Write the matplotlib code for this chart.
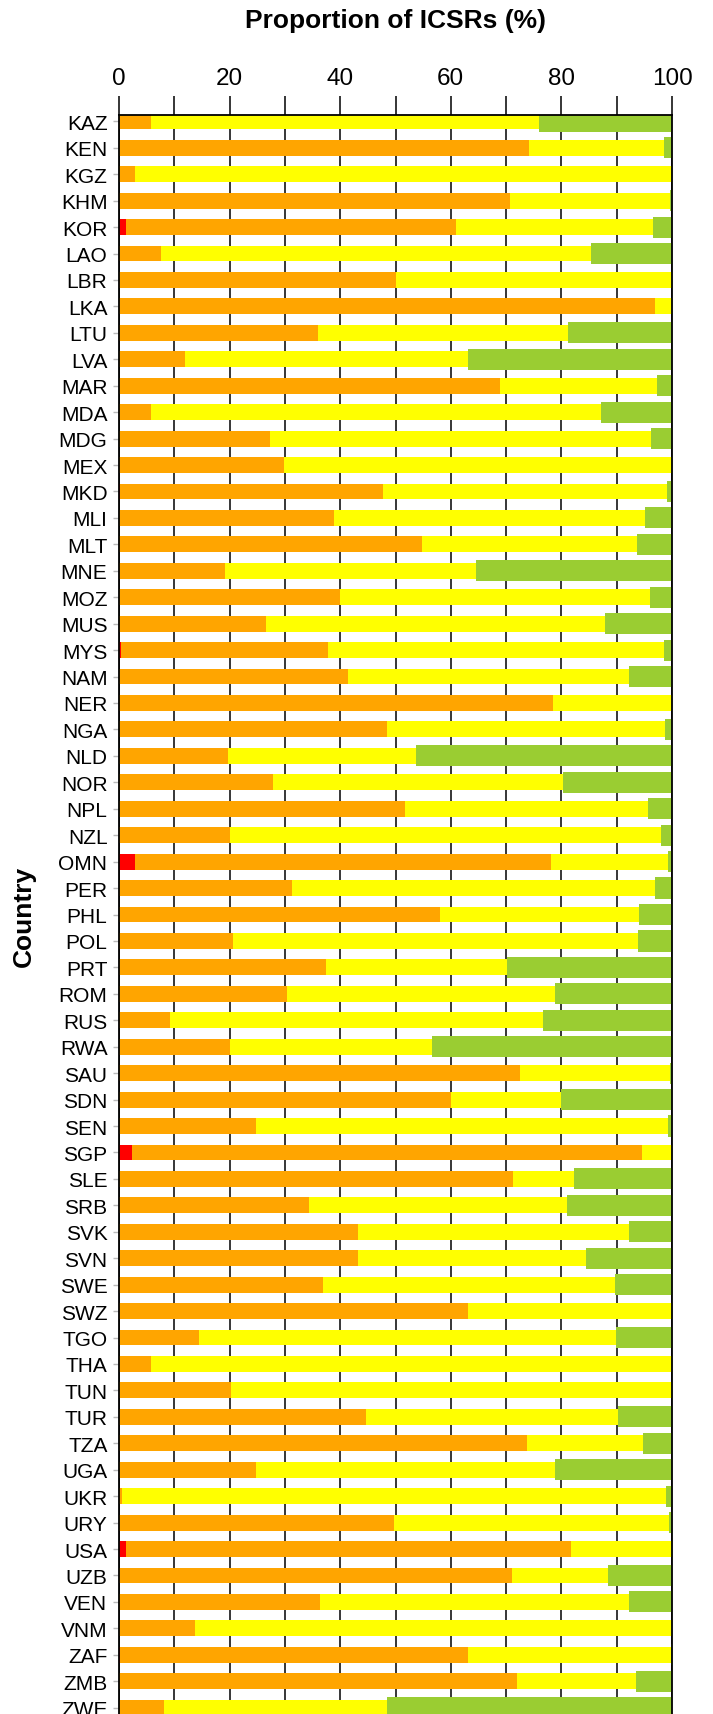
import matplotlib
matplotlib.use("Agg")
from matplotlib import pyplot as plt
import numpy as np

plt.rcParams['font.family'] = ['Liberation Sans', 'DejaVu Sans']

# Countries (top to bottom)
countries = ['KAZ', 'KEN', 'KGZ', 'KHM', 'KOR', 'LAO', 'LBR', 'LKA', 'LTU', 'LVA',
             'MAR', 'MDA', 'MDG', 'MEX', 'MKD', 'MLI', 'MLT', 'MNE', 'MOZ', 'MUS',
             'MYS', 'NAM', 'NER', 'NGA', 'NLD', 'NOR', 'NPL', 'NZL', 'OMN', 'PER',
             'PHL', 'POL', 'PRT', 'ROM', 'RUS', 'RWA', 'SAU', 'SDN', 'SEN', 'SGP',
             'SLE', 'SRB', 'SVK', 'SVN', 'SWE', 'SWZ', 'TGO', 'THA', 'TUN', 'TUR',
             'TZA', 'UGA', 'UKR', 'URY', 'USA', 'UZB', 'VEN', 'VNM', 'ZAF', 'ZMB',
             'ZWE']

# segment widths (%)
red = [0, 0, 0, 0, 1.3, 0, 0, 0, 0, 0,
       0, 0, 0, 0, 0.1, 0, 0, 0, 0, 0,
       0.3, 0, 0, 0, 0, 0, 0, 0, 2.9, 0,
       0, 0, 0, 0, 0, 0, 0, 0, 0, 2.4,
       0, 0, 0, 0, 0, 0, 0, 0, 0, 0,
       0, 0, 0, 0, 1.3, 0, 0, 0, 0.2, 0,
       0]
orange = [5.8, 74.1, 2.9, 70.7, 59.6, 7.6, 50.1, 97.0, 35.9, 12.0,
          68.9, 5.8, 27.3, 29.8, 47.7, 38.9, 54.8, 19.1, 40.0, 26.5,
          37.5, 41.4, 78.5, 48.4, 19.7, 27.8, 51.7, 20.1, 75.2, 31.3,
          58.0, 20.7, 37.4, 30.3, 9.3, 20.0, 72.5, 60.0, 24.7, 92.1,
          71.2, 34.4, 43.2, 43.3, 36.8, 63.1, 14.5, 5.7, 20.2, 44.7,
          73.8, 24.7, 0.6, 49.8, 80.4, 71.1, 36.3, 13.8, 63.0, 72.0,
          8.1]
yellow = [70.1, 24.4, 97.1, 29.0, 35.6, 77.8, 49.9, 3.0, 45.3, 51.2,
          28.4, 81.4, 68.9, 70.2, 51.3, 56.2, 38.8, 45.5, 56.1, 61.3,
          60.7, 50.9, 21.5, 50.3, 34.0, 52.5, 44.0, 77.9, 21.2, 65.6,
          36.0, 73.1, 32.8, 48.6, 67.3, 36.6, 27.1, 20.0, 74.6, 5.5,
          11.0, 46.6, 49.1, 41.2, 52.9, 36.9, 75.4, 94.3, 79.8, 45.5,
          20.9, 54.2, 98.3, 49.7, 18.3, 17.4, 55.9, 86.2, 36.55, 21.5,
          40.3]
green = [24.1, 1.5, 0, 0.3, 3.5, 14.6, 0, 0, 18.8, 36.8,
         2.7, 12.8, 3.8, 0, 0.9, 4.9, 6.4, 35.4, 3.9, 12.2,
         1.5, 7.7, 0, 1.3, 46.3, 19.7, 4.3, 2.0, 0.7, 3.1,
         6.0, 6.2, 29.8, 21.1, 23.4, 43.4, 0.4, 20.0, 0.7, 0,
         17.8, 19.0, 7.7, 15.5, 10.3, 0, 10.1, 0, 0, 9.8,
         5.3, 21.1, 1.1, 0.5, 0, 11.5, 7.8, 0, 0.25, 6.5,
         51.6]

red = np.array(red)
orange = np.array(orange)
yellow = np.array(yellow)
green = np.array(green)
y = np.arange(len(countries))

fig = plt.figure(figsize=(7.13, 17.15), dpi=100)
ax = fig.add_axes([119 / 713, 0, 553 / 713, 1 - 116 / 1715])

ax.barh(y, red, height=0.6, color='#FF0000')
ax.barh(y, orange, left=red, height=0.6, color='#FFA500')
ax.barh(y, yellow, left=red + orange, height=0.6, color='#FFFF00')
ax.barh(y, green, left=red + orange + yellow, height=0.8, color='#9ACD32')

ax.set_xlim(0, 100)
ax.set_ylim(60.24, -0.24)

# x axis on top
ax.xaxis.tick_top()
ax.set_xticks(np.arange(0, 101, 10))
ax.set_xticklabels([str(v) if v % 20 == 0 else '' for v in range(0, 101, 10)])
ax.tick_params(axis='x', length=14, width=1.1, color='black', labelsize=17.5, pad=5)
ax.grid(axis='x', color='black', linewidth=1.1)
ax.set_axisbelow(True)

ax.set_yticks(y)
ax.set_yticklabels(countries)
ax.tick_params(axis='y', length=4.3, width=1.0, color='#BBBBBB', labelsize=15, pad=4)

for s in ['top', 'left', 'right']:
    ax.spines[s].set_color('black')
    ax.spines[s].set_linewidth(1.3)
ax.spines['bottom'].set_visible(False)

fig.text(395.5 / 713, 1 - 21 / 1715, 'Proportion of ICSRs (%)', ha='center', va='center',
         fontsize=19, fontweight='bold')
fig.text(24 / 713, 1 - 916 / 1715, 'Country', ha='center', va='center', rotation=90,
         fontsize=19, fontweight='bold')

fig.savefig('out.png', dpi=100)
